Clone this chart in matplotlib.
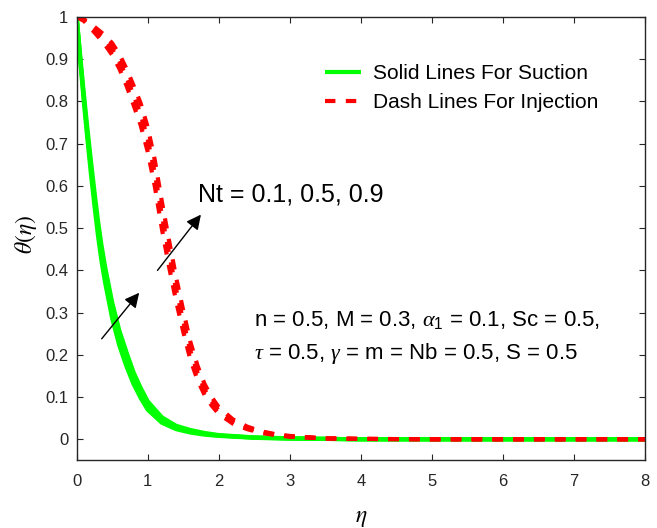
import numpy as np
import matplotlib
matplotlib.use("Agg")
import matplotlib.pyplot as plt

plt.rcParams['font.family'] = ['Liberation Sans', 'DejaVu Sans']
plt.rcParams['mathtext.fontset'] = 'custom'
plt.rcParams['mathtext.rm'] = 'Liberation Sans'
plt.rcParams['mathtext.it'] = 'Liberation Serif:italic'

# valori
Nt = [0.1, 0.5, 0.9]

# suction (linee continue verdi)
eta_s = [0, 0.05, 0.1, 0.15, 0.2, 0.25, 0.3, 0.35, 0.4, 0.5, 0.6, 0.7, 0.8, 0.9, 1.0,
         1.2, 1.4, 1.6, 1.8, 2.0, 2.5, 3.0, 3.5, 4.0, 5.0, 6.0, 7.0, 8.0]
theta_s_01 = [1, 0.896, 0.800, 0.712, 0.629, 0.553, 0.482, 0.421, 0.371, 0.286, 0.222, 0.173, 0.131, 0.098, 0.070,
              0.039, 0.024, 0.016, 0.011, 0.008, 0.0035, 0.0015, 0.001, 0, 0, 0, 0, 0]
theta_s_05 = [1, 0.902, 0.810, 0.725, 0.645, 0.570, 0.500, 0.440, 0.390, 0.305, 0.240, 0.190, 0.145, 0.110, 0.080,
              0.045, 0.028, 0.019, 0.013, 0.009, 0.004, 0.002, 0.001, 0, 0, 0, 0, 0]
theta_s_09 = [1, 0.908, 0.820, 0.738, 0.661, 0.587, 0.518, 0.459, 0.409, 0.324, 0.258, 0.207, 0.159, 0.122, 0.090,
              0.052, 0.032, 0.022, 0.015, 0.010, 0.0045, 0.0025, 0.001, 0, 0, 0, 0, 0]

# injection (linee tratteggiate rosse)
eta_i = [0, 0.1, 0.2, 0.3, 0.4, 0.5, 0.6, 0.7, 0.8, 0.9, 1.0, 1.1, 1.2, 1.3, 1.4, 1.5, 1.6,
         1.7, 1.8, 1.9, 2.0, 2.2, 2.4, 2.6, 2.8, 3.0, 3.5, 4.0, 5.0, 6.0, 7.0, 8.0]
theta_i_01 = [1, 0.991, 0.973, 0.954, 0.934, 0.910, 0.878, 0.838, 0.792, 0.744, 0.681, 0.599, 0.498, 0.409, 0.327, 0.255, 0.189,
              0.141, 0.105, 0.080, 0.060, 0.037, 0.024, 0.015, 0.010, 0.006, 0.002, 0.001, 0, 0, 0, 0]
theta_i_05 = [1, 0.993, 0.978, 0.962, 0.945, 0.924, 0.895, 0.858, 0.815, 0.770, 0.710, 0.630, 0.530, 0.440, 0.355, 0.280, 0.210,
              0.158, 0.118, 0.090, 0.068, 0.042, 0.027, 0.017, 0.011, 0.007, 0.002, 0.001, 0, 0, 0, 0]
theta_i_09 = [1, 0.995, 0.983, 0.970, 0.956, 0.938, 0.912, 0.878, 0.838, 0.796, 0.739, 0.661, 0.562, 0.471, 0.383, 0.305, 0.231,
              0.175, 0.131, 0.100, 0.076, 0.047, 0.030, 0.019, 0.012, 0.008, 0.002, 0.001, 0, 0, 0, 0]

suction = [theta_s_01, theta_s_05, theta_s_09]
injection = [theta_i_01, theta_i_05, theta_i_09]

fig = plt.figure(figsize=(6.57, 5.28), dpi=100)
ax = fig.add_axes([0.1167, 0.128, 0.865, 0.8398])

lines_s = []
for th in suction:
    l, = ax.plot(eta_s, th, color=(0, 1, 0), lw=3, solid_capstyle='butt')
    lines_s.append(l)
lines_i = []
for th in injection:
    l, = ax.plot(eta_i, th, color=(1, 0, 0), lw=3, linestyle=(0, (2.5, 2.5)), dash_capstyle='butt')
    lines_i.append(l)

ax.set_xlim(0, 8)
ax.set_ylim(-0.05, 1)
ax.set_xticks(np.arange(0, 9, 1))
ax.set_yticks(np.arange(0, 1.01, 0.1))
ax.set_yticklabels(['0', '0.1', '0.2', '0.3', '0.4', '0.5', '0.6', '0.7', '0.8', '0.9', '1'])

axcol = '#262626'
for s in ax.spines.values():
    s.set_color(axcol)
    s.set_linewidth(1)
ax.tick_params(axis='both', direction='in', top=True, right=True, length=4, width=0.8,
               color=axcol, labelcolor=axcol, labelsize=12)
ax.tick_params(axis='x', pad=10)
ax.tick_params(axis='y', pad=6)

ax.set_xlabel(r'$\eta$', fontsize=17, math_fontfamily='stix', va='center')
ax.xaxis.set_label_coords(0.5, -0.13)
ax.set_ylabel(r'$\theta(\eta)$', fontsize=17, math_fontfamily='stix', va='center')
ax.yaxis.set_label_coords(-0.09, 0.51)

leg = ax.legend([lines_s[0], lines_i[0]], ['Solid Lines For Suction', 'Dash Lines For Injection'],
                loc='upper left', bbox_to_anchor=(0.437, 0.893), frameon=False, fontsize=15,
                handlelength=1.75, handletextpad=0.55, labelspacing=0.45, borderpad=0, borderaxespad=0)

# frecce
arr = dict(arrowstyle='-|>', color='k', lw=1, mutation_scale=22, shrinkA=0, shrinkB=0)
ax.annotate('', xy=(0.88, 0.347), xytext=(0.352, 0.238), arrowprops=arr)
ax.annotate('', xy=(1.749, 0.532), xytext=(1.138, 0.40), arrowprops=arr)

ax.text(1.71, 0.58, 'Nt = 0.1, 0.5, 0.9', fontsize=18, va='center', ha='left')
ax.text(2.5, 0.282, r'n = 0.5, M = 0.3, $\alpha_1$ = 0.1, Sc = 0.5,', fontsize=16, va='center', ha='left')
ax.text(2.5, 0.202, r'$\tau$ = 0.5, $\gamma$ = m = Nb = 0.5, S = 0.5', fontsize=16, va='center', ha='left')

plt.savefig('out.png', dpi=100)
